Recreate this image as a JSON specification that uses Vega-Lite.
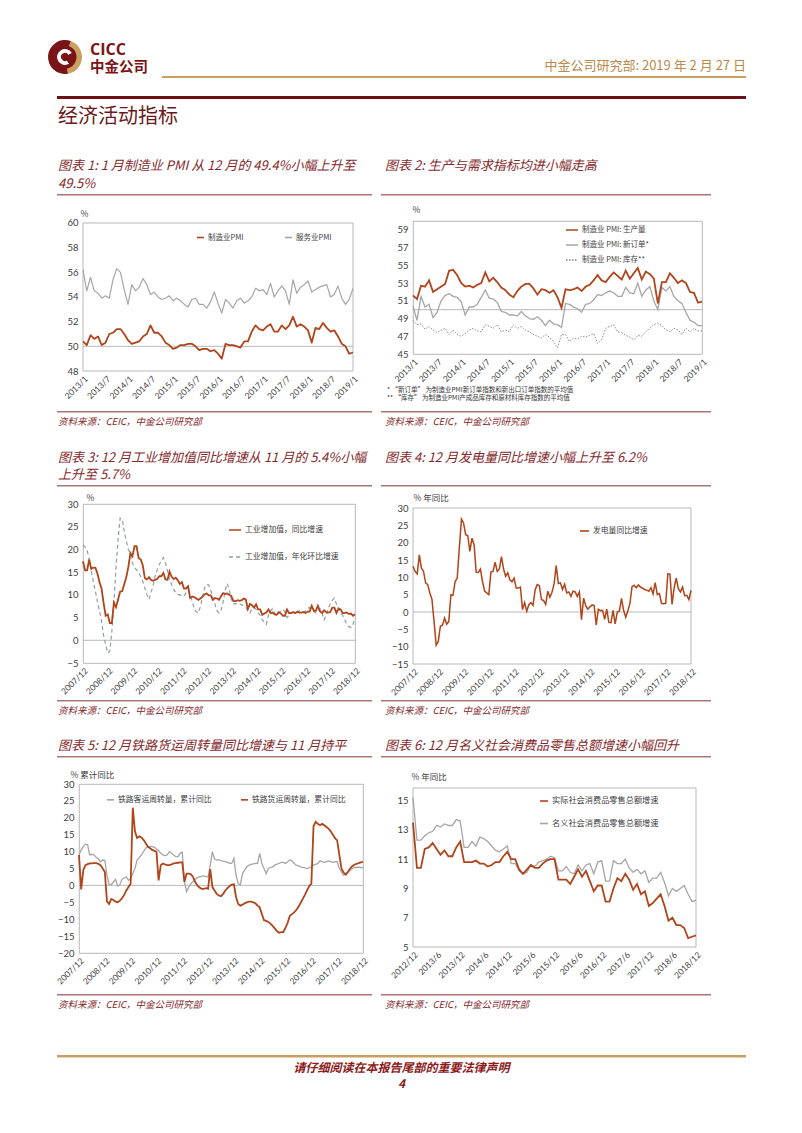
{
"$schema":"https://vega.github.io/schema/vega-lite/v6.json",
"background":"white",
"padding":{"left":48,"top":40,"right":0,"bottom":0},
"spacing":0,
"resolve":{"scale":{"color":"independent","strokeDash":"independent","x":"independent","y":"independent","theta":"independent"},"legend":{"color":"independent","strokeDash":"independent"},"axis":{"x":"independent","y":"independent"}},
"config":{
 "view":{"stroke":null},
 "font":"Noto Sans CJK SC",
 "axis":{"domain":false,"ticks":false,"grid":false,"labelFont":"Lato","labelColor":"#404040","titleFont":"Noto Sans CJK SC","titleFontWeight":"normal","titleColor":"#404040","titleFontSize":8.5},
 "axisX":{"labelAngle":-45,"labelFontSize":8.5,"labelPadding":3,"labelOverlap":false},
 "axisY":{"labelFontSize":9.5,"labelPadding":5,"titleAngle":0,"titleAlign":"left","titleBaseline":"bottom","labelOverlap":false},
 "legend":{"symbolType":"stroke","symbolStrokeWidth":1.6,"labelFont":"Noto Sans CJK SC","labelFontSize":7.8,"labelColor":"#404040","labelOffset":3,"padding":0},
 "title":{"font":"Noto Sans CJK SC","fontSize":13,"fontStyle":"italic","fontWeight":"normal","color":"#84292B","anchor":"start","frame":"group"}
},
"datasets":{
"A":[
{"d":"2013/1","mfg":50.4,"svc":56.2,"prod":51.6,"ord":50.4,"inv":48.8},
{"d":"2013/2","mfg":50.1,"svc":54.5,"prod":51.2,"ord":48.8,"inv":48.3},
{"d":"2013/3","mfg":50.9,"svc":55.6,"prod":52.7,"ord":51.5,"inv":48.4},
{"d":"2013/4","mfg":50.6,"svc":54.5,"prod":52.6,"ord":50.3,"inv":47.8},
{"d":"2013/5","mfg":50.8,"svc":54.3,"prod":53.3,"ord":50.6,"inv":48.1},
{"d":"2013/6","mfg":50.1,"svc":53.9,"prod":52.0,"ord":49.1,"inv":47.7},
{"d":"2013/7","mfg":50.3,"svc":54.1,"prod":52.3,"ord":49.7,"inv":47.4},
{"d":"2013/8","mfg":51.0,"svc":53.9,"prod":52.6,"ord":51.0,"inv":47.7},
{"d":"2013/9","mfg":51.1,"svc":55.4,"prod":52.9,"ord":51.6,"inv":47.9},
{"d":"2013/10","mfg":51.4,"svc":56.3,"prod":54.4,"ord":51.8,"inv":47.2},
{"d":"2013/11","mfg":51.4,"svc":56.0,"prod":54.5,"ord":51.5,"inv":47.7},
{"d":"2013/12","mfg":51.0,"svc":54.6,"prod":53.9,"ord":51.4,"inv":47.2},
{"d":"2014/1","mfg":50.5,"svc":53.4,"prod":53.0,"ord":50.9,"inv":47.0},
{"d":"2014/2","mfg":50.2,"svc":55.0,"prod":52.6,"ord":49.4,"inv":47.3},
{"d":"2014/3","mfg":50.3,"svc":54.5,"prod":52.7,"ord":50.3,"inv":47.7},
{"d":"2014/4","mfg":50.4,"svc":54.8,"prod":52.5,"ord":50.3,"inv":47.9},
{"d":"2014/5","mfg":50.8,"svc":55.5,"prod":52.8,"ord":50.6,"inv":47.6},
{"d":"2014/6","mfg":51.0,"svc":55.0,"prod":53.0,"ord":51.4,"inv":47.5},
{"d":"2014/7","mfg":51.7,"svc":54.2,"prod":54.2,"ord":52.2,"inv":48.3},
{"d":"2014/8","mfg":51.1,"svc":54.4,"prod":53.2,"ord":51.3,"inv":48.1},
{"d":"2014/9","mfg":51.1,"svc":54.0,"prod":53.6,"ord":51.2,"inv":47.9},
{"d":"2014/10","mfg":50.8,"svc":53.8,"prod":53.1,"ord":50.8,"inv":48.3},
{"d":"2014/11","mfg":50.3,"svc":53.9,"prod":52.5,"ord":49.8,"inv":47.5},
{"d":"2014/12","mfg":50.1,"svc":54.1,"prod":52.2,"ord":49.7,"inv":47.7},
{"d":"2015/1","mfg":49.8,"svc":53.7,"prod":51.7,"ord":49.4,"inv":47.5},
{"d":"2015/2","mfg":49.9,"svc":53.9,"prod":51.4,"ord":49.4,"inv":48.3},
{"d":"2015/3","mfg":50.1,"svc":53.7,"prod":52.1,"ord":49.3,"inv":47.9},
{"d":"2015/4","mfg":50.1,"svc":53.4,"prod":52.6,"ord":49.8,"inv":48.1},
{"d":"2015/5","mfg":50.2,"svc":53.2,"prod":52.9,"ord":49.3,"inv":47.7},
{"d":"2015/6","mfg":50.2,"svc":53.8,"prod":52.9,"ord":49.0,"inv":47.5},
{"d":"2015/7","mfg":50.0,"svc":53.9,"prod":52.4,"ord":48.9,"inv":47.2},
{"d":"2015/8","mfg":49.7,"svc":53.4,"prod":51.7,"ord":49.2,"inv":47.0},
{"d":"2015/9","mfg":49.8,"svc":53.4,"prod":52.3,"ord":48.8,"inv":46.8},
{"d":"2015/10","mfg":49.8,"svc":53.1,"prod":52.2,"ord":48.2,"inv":47.2},
{"d":"2015/11","mfg":49.6,"svc":53.6,"prod":51.9,"ord":48.8,"inv":46.9},
{"d":"2015/12","mfg":49.7,"svc":54.4,"prod":52.2,"ord":48.4,"inv":46.4},
{"d":"2016/1","mfg":49.4,"svc":53.5,"prod":51.4,"ord":48.3,"inv":45.7},
{"d":"2016/2","mfg":49.0,"svc":52.7,"prod":50.2,"ord":48.0,"inv":47.2},
{"d":"2016/3","mfg":50.2,"svc":53.8,"prod":52.3,"ord":50.7,"inv":47.2},
{"d":"2016/4","mfg":50.1,"svc":53.5,"prod":52.2,"ord":50.6,"inv":46.4},
{"d":"2016/5","mfg":50.1,"svc":53.1,"prod":52.3,"ord":50.3,"inv":46.8},
{"d":"2016/6","mfg":50.0,"svc":53.7,"prod":52.5,"ord":50.1,"inv":46.7},
{"d":"2016/7","mfg":49.9,"svc":53.9,"prod":52.1,"ord":49.7,"inv":47.0},
{"d":"2016/8","mfg":50.4,"svc":53.5,"prod":52.6,"ord":50.6,"inv":46.9},
{"d":"2016/9","mfg":50.4,"svc":53.7,"prod":52.8,"ord":50.7,"inv":47.1},
{"d":"2016/10","mfg":51.2,"svc":54.0,"prod":53.3,"ord":51.1,"inv":47.3},
{"d":"2016/11","mfg":51.7,"svc":54.7,"prod":53.9,"ord":51.7,"inv":46.2},
{"d":"2016/12","mfg":51.4,"svc":54.5,"prod":53.3,"ord":51.6,"inv":46.6},
{"d":"2017/1","mfg":51.3,"svc":54.6,"prod":53.1,"ord":51.9,"inv":47.9},
{"d":"2017/2","mfg":51.6,"svc":54.2,"prod":53.7,"ord":52.1,"inv":48.1},
{"d":"2017/3","mfg":51.8,"svc":55.1,"prod":54.2,"ord":51.9,"inv":48.3},
{"d":"2017/4","mfg":51.2,"svc":54.0,"prod":53.8,"ord":51.5,"inv":47.5},
{"d":"2017/5","mfg":51.2,"svc":54.5,"prod":53.4,"ord":51.5,"inv":47.4},
{"d":"2017/6","mfg":51.7,"svc":54.9,"prod":54.4,"ord":52.5,"inv":47.1},
{"d":"2017/7","mfg":51.4,"svc":54.5,"prod":53.5,"ord":51.9,"inv":46.9},
{"d":"2017/8","mfg":51.7,"svc":53.4,"prod":54.1,"ord":51.8,"inv":46.6},
{"d":"2017/9","mfg":52.4,"svc":55.4,"prod":54.7,"ord":53.0,"inv":47.1},
{"d":"2017/10","mfg":51.6,"svc":54.3,"prod":53.4,"ord":51.5,"inv":47.0},
{"d":"2017/11","mfg":51.8,"svc":54.8,"prod":54.3,"ord":52.2,"inv":47.5},
{"d":"2017/12","mfg":51.6,"svc":55.0,"prod":54.0,"ord":52.6,"inv":47.9},
{"d":"2018/1","mfg":51.3,"svc":55.3,"prod":53.5,"ord":51.0,"inv":48.3},
{"d":"2018/2","mfg":50.3,"svc":54.4,"prod":50.7,"ord":50.0,"inv":48.5},
{"d":"2018/3","mfg":51.5,"svc":54.6,"prod":53.1,"ord":52.5,"inv":48.2},
{"d":"2018/4","mfg":51.4,"svc":54.8,"prod":53.1,"ord":52.1,"inv":47.7},
{"d":"2018/5","mfg":51.9,"svc":54.9,"prod":54.1,"ord":52.6,"inv":47.5},
{"d":"2018/6","mfg":51.5,"svc":55.0,"prod":53.6,"ord":51.5,"inv":47.9},
{"d":"2018/7","mfg":51.2,"svc":54.0,"prod":53.0,"ord":51.0,"inv":47.7},
{"d":"2018/8","mfg":51.3,"svc":54.2,"prod":53.3,"ord":50.7,"inv":47.2},
{"d":"2018/9","mfg":50.8,"svc":54.9,"prod":53.0,"ord":49.7,"inv":47.9},
{"d":"2018/10","mfg":50.2,"svc":53.9,"prod":52.0,"ord":48.8,"inv":47.5},
{"d":"2018/11","mfg":50.0,"svc":53.4,"prod":51.9,"ord":48.6,"inv":47.9},
{"d":"2018/12","mfg":49.4,"svc":53.8,"prod":50.8,"ord":48.2,"inv":47.6},
{"d":"2019/1","mfg":49.5,"svc":54.7,"prod":50.9,"ord":48.2,"inv":47.6}
],
"B":[
{"d":"2007/12","ip":17.4,"ipm":21.0,"pw":13.2,"pas":9.0,"frt":9.0},
{"d":"2008/1","ip":15.4,"ipm":20.5,"pw":11.7,"pas":10.5,"frt":-1.2},
{"d":"2008/2","ip":15.4,"ipm":19.7,"pw":11.0,"pas":11.5,"frt":4.5},
{"d":"2008/3","ip":17.8,"ipm":18.0,"pw":16.5,"pas":12.2,"frt":6.0},
{"d":"2008/4","ip":15.7,"ipm":15.3,"pw":12.7,"pas":12.0,"frt":6.3},
{"d":"2008/5","ip":16.0,"ipm":13.0,"pw":11.7,"pas":9.0,"frt":6.5},
{"d":"2008/6","ip":16.0,"ipm":10.8,"pw":8.4,"pas":9.2,"frt":6.5},
{"d":"2008/7","ip":14.7,"ipm":8.5,"pw":7.9,"pas":9.0,"frt":6.6},
{"d":"2008/8","ip":12.8,"ipm":6.5,"pw":5.5,"pas":8.3,"frt":6.6},
{"d":"2008/9","ip":11.4,"ipm":4.2,"pw":3.6,"pas":7.8,"frt":6.4},
{"d":"2008/10","ip":8.2,"ipm":1.0,"pw":-2.7,"pas":7.0,"frt":6.0},
{"d":"2008/11","ip":5.4,"ipm":-1.0,"pw":-9.6,"pas":7.5,"frt":5.0},
{"d":"2008/12","ip":5.7,"ipm":-2.8,"pw":-8.5,"pas":7.4,"frt":4.0},
{"d":"2009/1","ip":3.8,"ipm":-2.4,"pw":-4.1,"pas":3.0,"frt":-4.7},
{"d":"2009/2","ip":3.8,"ipm":2.0,"pw":-3.8,"pas":0.3,"frt":-5.5},
{"d":"2009/3","ip":8.3,"ipm":8.0,"pw":-1.7,"pas":0.2,"frt":-4.0},
{"d":"2009/4","ip":7.3,"ipm":16.0,"pw":-3.5,"pas":1.0,"frt":-4.3},
{"d":"2009/5","ip":8.9,"ipm":22.0,"pw":-2.7,"pas":1.8,"frt":-4.8},
{"d":"2009/6","ip":10.7,"ipm":26.9,"pw":5.0,"pas":-0.2,"frt":-5.0},
{"d":"2009/7","ip":10.8,"ipm":26.7,"pw":4.8,"pas":0.2,"frt":-4.5},
{"d":"2009/8","ip":12.3,"ipm":24.0,"pw":8.8,"pas":1.8,"frt":-3.8},
{"d":"2009/9","ip":13.9,"ipm":21.9,"pw":9.8,"pas":2.2,"frt":-2.8},
{"d":"2009/10","ip":16.1,"ipm":20.0,"pw":18.5,"pas":2.5,"frt":-1.5},
{"d":"2009/11","ip":19.2,"ipm":19.0,"pw":26.8,"pas":1.5,"frt":-0.5},
{"d":"2009/12","ip":18.5,"ipm":17.0,"pw":25.7,"pas":2.0,"frt":0.5},
{"d":"2010/1","ip":20.7,"ipm":16.0,"pw":22.3,"pas":3.5,"frt":23.0},
{"d":"2010/2","ip":20.7,"ipm":15.5,"pw":22.0,"pas":5.0,"frt":16.0},
{"d":"2010/3","ip":18.1,"ipm":14.9,"pw":17.5,"pas":7.5,"frt":14.0},
{"d":"2010/4","ip":17.8,"ipm":14.0,"pw":21.3,"pas":8.2,"frt":14.5},
{"d":"2010/5","ip":16.5,"ipm":13.0,"pw":19.4,"pas":9.0,"frt":14.2},
{"d":"2010/6","ip":13.7,"ipm":11.5,"pw":11.5,"pas":10.0,"frt":13.5},
{"d":"2010/7","ip":13.4,"ipm":10.1,"pw":11.4,"pas":11.0,"frt":12.5},
{"d":"2010/8","ip":13.9,"ipm":9.0,"pw":12.4,"pas":11.3,"frt":11.5},
{"d":"2010/9","ip":13.3,"ipm":10.5,"pw":8.8,"pas":11.5,"frt":11.0},
{"d":"2010/10","ip":13.1,"ipm":12.0,"pw":6.0,"pas":11.5,"frt":10.5},
{"d":"2010/11","ip":13.3,"ipm":14.1,"pw":5.5,"pas":11.3,"frt":10.2},
{"d":"2010/12","ip":13.5,"ipm":15.5,"pw":5.0,"pas":10.8,"frt":10.0},
{"d":"2011/1","ip":14.1,"ipm":16.7,"pw":11.5,"pas":10.3,"frt":1.5},
{"d":"2011/2","ip":14.1,"ipm":17.5,"pw":11.7,"pas":9.5,"frt":6.0},
{"d":"2011/3","ip":14.8,"ipm":18.2,"pw":14.4,"pas":9.0,"frt":6.5},
{"d":"2011/4","ip":13.4,"ipm":17.0,"pw":11.7,"pas":8.8,"frt":6.2},
{"d":"2011/5","ip":13.3,"ipm":15.3,"pw":12.4,"pas":9.0,"frt":6.0},
{"d":"2011/6","ip":15.1,"ipm":13.5,"pw":16.0,"pas":10.0,"frt":6.0},
{"d":"2011/7","ip":14.0,"ipm":12.3,"pw":12.4,"pas":9.5,"frt":6.2},
{"d":"2011/8","ip":13.5,"ipm":11.2,"pw":10.3,"pas":9.0,"frt":6.5},
{"d":"2011/9","ip":13.8,"ipm":10.5,"pw":11.3,"pas":8.5,"frt":6.6},
{"d":"2011/10","ip":13.2,"ipm":10.1,"pw":9.3,"pas":8.5,"frt":6.7},
{"d":"2011/11","ip":12.4,"ipm":10.0,"pw":8.7,"pas":9.5,"frt":6.8},
{"d":"2011/12","ip":12.8,"ipm":9.8,"pw":9.8,"pas":9.8,"frt":6.8},
{"d":"2012/1","ip":11.4,"ipm":9.7,"pw":6.9,"pas":1.0,"frt":1.0},
{"d":"2012/2","ip":11.4,"ipm":10.5,"pw":6.9,"pas":-1.8,"frt":3.5},
{"d":"2012/3","ip":11.9,"ipm":11.0,"pw":7.2,"pas":-0.5,"frt":3.5},
{"d":"2012/4","ip":9.3,"ipm":10.0,"pw":0.7,"pas":0.5,"frt":3.3},
{"d":"2012/5","ip":9.6,"ipm":8.5,"pw":2.7,"pas":1.2,"frt":2.5},
{"d":"2012/6","ip":9.5,"ipm":7.0,"pw":0.2,"pas":1.8,"frt":1.0},
{"d":"2012/7","ip":9.2,"ipm":6.2,"pw":2.1,"pas":2.3,"frt":0.0},
{"d":"2012/8","ip":8.9,"ipm":6.0,"pw":2.7,"pas":2.5,"frt":-0.6},
{"d":"2012/9","ip":9.2,"ipm":7.5,"pw":1.9,"pas":2.7,"frt":-1.0},
{"d":"2012/10","ip":9.6,"ipm":9.5,"pw":6.4,"pas":2.8,"frt":-1.0},
{"d":"2012/11","ip":10.1,"ipm":11.5,"pw":7.9,"pas":2.6,"frt":-0.8},
{"d":"2012/12","ip":10.3,"ipm":12.3,"pw":7.6,"pas":2.5,"frt":-1.0},
{"d":"2013/1","ip":9.9,"ipm":12.2,"pw":3.6,"pas":6.0,"frt":4.8},
{"d":"2013/2","ip":9.9,"ipm":11.0,"pw":3.3,"pas":10.0,"frt":-0.5},
{"d":"2013/3","ip":8.9,"ipm":9.5,"pw":2.2,"pas":7.8,"frt":-1.5},
{"d":"2013/4","ip":9.3,"ipm":8.0,"pw":6.0,"pas":7.5,"frt":-2.5},
{"d":"2013/5","ip":9.2,"ipm":6.5,"pw":4.3,"pas":7.6,"frt":-3.0},
{"d":"2013/6","ip":8.9,"ipm":6.0,"pw":5.7,"pas":7.3,"frt":-3.2},
{"d":"2013/7","ip":9.7,"ipm":6.5,"pw":8.1,"pas":7.2,"frt":-2.5},
{"d":"2013/8","ip":10.4,"ipm":8.5,"pw":13.4,"pas":7.0,"frt":-1.5},
{"d":"2013/9","ip":10.2,"ipm":11.0,"pw":8.2,"pas":6.8,"frt":-0.8},
{"d":"2013/10","ip":10.3,"ipm":12.5,"pw":8.4,"pas":6.5,"frt":-0.2},
{"d":"2013/11","ip":10.0,"ipm":11.0,"pw":6.5,"pas":6.5,"frt":0.2},
{"d":"2013/12","ip":9.7,"ipm":9.0,"pw":8.0,"pas":8.0,"frt":0.3},
{"d":"2014/1","ip":8.6,"ipm":8.0,"pw":5.5,"pas":3.0,"frt":-3.5},
{"d":"2014/2","ip":8.6,"ipm":8.0,"pw":5.8,"pas":0.5,"frt":-5.5},
{"d":"2014/3","ip":8.8,"ipm":8.2,"pw":4.5,"pas":0.2,"frt":-6.0},
{"d":"2014/4","ip":8.7,"ipm":8.0,"pw":6.0,"pas":3.5,"frt":-5.7},
{"d":"2014/5","ip":8.8,"ipm":7.8,"pw":5.8,"pas":4.5,"frt":-5.3},
{"d":"2014/6","ip":9.2,"ipm":7.5,"pw":4.5,"pas":5.5,"frt":-5.0},
{"d":"2014/7","ip":9.0,"ipm":7.3,"pw":5.8,"pas":6.0,"frt":-4.8},
{"d":"2014/8","ip":6.9,"ipm":6.5,"pw":-2.2,"pas":6.2,"frt":-4.8},
{"d":"2014/9","ip":8.0,"ipm":6.0,"pw":4.0,"pas":6.4,"frt":-5.0},
{"d":"2014/10","ip":7.7,"ipm":7.0,"pw":1.8,"pas":6.5,"frt":-5.3},
{"d":"2014/11","ip":7.2,"ipm":7.2,"pw":0.8,"pas":6.5,"frt":-6.0},
{"d":"2014/12","ip":7.9,"ipm":6.8,"pw":1.5,"pas":9.5,"frt":-6.5},
{"d":"2015/1","ip":6.8,"ipm":6.0,"pw":2.0,"pas":6.5,"frt":-8.5},
{"d":"2015/2","ip":6.8,"ipm":5.5,"pw":1.9,"pas":5.0,"frt":-10.3},
{"d":"2015/3","ip":5.6,"ipm":4.5,"pw":-3.7,"pas":3.5,"frt":-10.5},
{"d":"2015/4","ip":5.9,"ipm":4.0,"pw":0.8,"pas":5.0,"frt":-10.8},
{"d":"2015/5","ip":6.1,"ipm":3.5,"pw":0.4,"pas":5.3,"frt":-11.3},
{"d":"2015/6","ip":6.8,"ipm":5.5,"pw":0.5,"pas":5.5,"frt":-12.0},
{"d":"2015/7","ip":6.0,"ipm":6.5,"pw":-2.1,"pas":6.0,"frt":-12.7},
{"d":"2015/8","ip":6.1,"ipm":7.0,"pw":0.8,"pas":6.3,"frt":-13.5},
{"d":"2015/9","ip":5.7,"ipm":6.0,"pw":-3.0,"pas":6.5,"frt":-14.0},
{"d":"2015/10","ip":5.6,"ipm":5.5,"pw":-3.1,"pas":6.8,"frt":-13.8},
{"d":"2015/11","ip":6.2,"ipm":6.0,"pw":0.5,"pas":6.8,"frt":-13.8},
{"d":"2015/12","ip":5.9,"ipm":6.5,"pw":-3.4,"pas":6.5,"frt":-12.5},
{"d":"2016/1","ip":5.4,"ipm":6.8,"pw":0.0,"pas":7.0,"frt":-11.0},
{"d":"2016/2","ip":5.4,"ipm":6.2,"pw":0.3,"pas":7.5,"frt":-9.0},
{"d":"2016/3","ip":6.8,"ipm":5.0,"pw":3.9,"pas":7.3,"frt":-8.5},
{"d":"2016/4","ip":6.0,"ipm":5.5,"pw":0.5,"pas":6.5,"frt":-8.0},
{"d":"2016/5","ip":6.0,"ipm":6.0,"pw":-1.5,"pas":6.0,"frt":-7.3},
{"d":"2016/6","ip":6.2,"ipm":6.2,"pw":0.3,"pas":5.8,"frt":-6.3},
{"d":"2016/7","ip":6.0,"ipm":6.0,"pw":2.5,"pas":5.5,"frt":-5.2},
{"d":"2016/8","ip":6.3,"ipm":6.1,"pw":7.3,"pas":5.3,"frt":-4.0},
{"d":"2016/9","ip":6.1,"ipm":6.5,"pw":7.7,"pas":5.2,"frt":-2.8},
{"d":"2016/10","ip":6.1,"ipm":6.3,"pw":7.0,"pas":5.0,"frt":-1.5},
{"d":"2016/11","ip":6.2,"ipm":6.1,"pw":7.8,"pas":5.2,"frt":-0.2},
{"d":"2016/12","ip":6.0,"ipm":6.5,"pw":7.2,"pas":5.5,"frt":0.5},
{"d":"2017/1","ip":6.3,"ipm":7.0,"pw":6.9,"pas":6.0,"frt":17.5},
{"d":"2017/2","ip":6.3,"ipm":7.2,"pw":6.5,"pas":6.2,"frt":18.8},
{"d":"2017/3","ip":7.6,"ipm":6.5,"pw":6.3,"pas":6.5,"frt":18.2},
{"d":"2017/4","ip":6.5,"ipm":6.3,"pw":6.0,"pas":7.3,"frt":17.8},
{"d":"2017/5","ip":6.5,"ipm":6.0,"pw":7.0,"pas":7.0,"frt":18.2},
{"d":"2017/6","ip":7.6,"ipm":6.5,"pw":5.2,"pas":6.8,"frt":17.8},
{"d":"2017/7","ip":6.4,"ipm":7.0,"pw":8.5,"pas":7.0,"frt":17.3},
{"d":"2017/8","ip":6.0,"ipm":6.0,"pw":5.0,"pas":7.2,"frt":16.8},
{"d":"2017/9","ip":6.6,"ipm":4.5,"pw":5.3,"pas":7.0,"frt":16.0},
{"d":"2017/10","ip":6.2,"ipm":5.5,"pw":2.5,"pas":6.8,"frt":15.0},
{"d":"2017/11","ip":6.1,"ipm":7.0,"pw":2.4,"pas":7.0,"frt":14.0},
{"d":"2017/12","ip":6.2,"ipm":8.0,"pw":2.5,"pas":7.0,"frt":13.3},
{"d":"2018/1","ip":7.2,"ipm":8.8,"pw":11.0,"pas":5.0,"frt":9.0},
{"d":"2018/2","ip":7.2,"ipm":9.3,"pw":10.9,"pas":4.0,"frt":5.0},
{"d":"2018/3","ip":6.0,"ipm":8.0,"pw":2.2,"pas":3.0,"frt":3.8},
{"d":"2018/4","ip":7.0,"ipm":7.0,"pw":7.0,"pas":3.5,"frt":3.2},
{"d":"2018/5","ip":6.8,"ipm":6.0,"pw":9.8,"pas":4.0,"frt":4.0},
{"d":"2018/6","ip":6.0,"ipm":5.5,"pw":6.7,"pas":4.5,"frt":5.0},
{"d":"2018/7","ip":6.0,"ipm":4.5,"pw":5.8,"pas":5.0,"frt":5.7},
{"d":"2018/8","ip":6.1,"ipm":3.5,"pw":7.2,"pas":5.3,"frt":6.1},
{"d":"2018/9","ip":5.8,"ipm":3.0,"pw":4.7,"pas":5.3,"frt":6.4},
{"d":"2018/10","ip":5.9,"ipm":2.8,"pw":4.8,"pas":5.4,"frt":6.6},
{"d":"2018/11","ip":5.4,"ipm":3.5,"pw":3.6,"pas":5.3,"frt":6.8},
{"d":"2018/12","ip":5.7,"ipm":5.0,"pw":6.2,"pas":5.2,"frt":7.0}
],
"C":[
{"d":"2012/12","real":13.5,"nom":15.2},
{"d":"2013/1","real":10.4,"nom":12.3},
{"d":"2013/2","real":10.4,"nom":12.3},
{"d":"2013/3","real":11.7,"nom":12.6},
{"d":"2013/4","real":11.8,"nom":12.8},
{"d":"2013/5","real":12.1,"nom":12.9},
{"d":"2013/6","real":11.7,"nom":13.3},
{"d":"2013/7","real":11.3,"nom":13.2},
{"d":"2013/8","real":11.6,"nom":13.4},
{"d":"2013/9","real":11.2,"nom":13.3},
{"d":"2013/10","real":11.2,"nom":13.3},
{"d":"2013/11","real":11.8,"nom":13.7},
{"d":"2013/12","real":12.2,"nom":13.6},
{"d":"2014/1","real":10.8,"nom":11.8},
{"d":"2014/2","real":10.8,"nom":11.8},
{"d":"2014/3","real":10.8,"nom":12.2},
{"d":"2014/4","real":10.9,"nom":11.9},
{"d":"2014/5","real":10.7,"nom":12.5},
{"d":"2014/6","real":10.7,"nom":12.4},
{"d":"2014/7","real":10.5,"nom":12.2},
{"d":"2014/8","real":10.6,"nom":11.9},
{"d":"2014/9","real":10.8,"nom":11.6},
{"d":"2014/10","real":10.8,"nom":11.5},
{"d":"2014/11","real":11.2,"nom":11.7},
{"d":"2014/12","real":11.5,"nom":11.9},
{"d":"2015/1","real":11.0,"nom":10.7},
{"d":"2015/2","real":11.0,"nom":10.7},
{"d":"2015/3","real":10.3,"nom":10.2},
{"d":"2015/4","real":10.0,"nom":10.0},
{"d":"2015/5","real":10.3,"nom":10.1},
{"d":"2015/6","real":10.6,"nom":10.6},
{"d":"2015/7","real":10.4,"nom":10.5},
{"d":"2015/8","real":10.4,"nom":10.8},
{"d":"2015/9","real":10.7,"nom":10.9},
{"d":"2015/10","real":10.9,"nom":11.0},
{"d":"2015/11","real":11.0,"nom":11.2},
{"d":"2015/12","real":11.0,"nom":11.1},
{"d":"2016/1","real":9.6,"nom":10.2},
{"d":"2016/2","real":9.6,"nom":10.2},
{"d":"2016/3","real":9.6,"nom":10.5},
{"d":"2016/4","real":9.3,"nom":10.1},
{"d":"2016/5","real":9.8,"nom":10.0},
{"d":"2016/6","real":10.3,"nom":10.6},
{"d":"2016/7","real":9.8,"nom":10.2},
{"d":"2016/8","real":10.2,"nom":10.6},
{"d":"2016/9","real":9.5,"nom":10.7},
{"d":"2016/10","real":8.8,"nom":10.0},
{"d":"2016/11","real":9.2,"nom":10.8},
{"d":"2016/12","real":9.2,"nom":10.9},
{"d":"2017/1","real":8.1,"nom":9.5},
{"d":"2017/2","real":8.1,"nom":9.5},
{"d":"2017/3","real":9.0,"nom":10.9},
{"d":"2017/4","real":9.7,"nom":10.7},
{"d":"2017/5","real":9.5,"nom":10.7},
{"d":"2017/6","real":10.0,"nom":11.0},
{"d":"2017/7","real":9.6,"nom":10.4},
{"d":"2017/8","real":8.9,"nom":10.1},
{"d":"2017/9","real":9.3,"nom":10.3},
{"d":"2017/10","real":8.6,"nom":10.0},
{"d":"2017/11","real":8.8,"nom":10.2},
{"d":"2017/12","real":7.8,"nom":9.4},
{"d":"2018/1","real":8.0,"nom":9.7},
{"d":"2018/2","real":8.3,"nom":9.7},
{"d":"2018/3","real":8.6,"nom":10.1},
{"d":"2018/4","real":7.8,"nom":9.4},
{"d":"2018/5","real":6.8,"nom":8.5},
{"d":"2018/6","real":7.0,"nom":9.0},
{"d":"2018/7","real":6.5,"nom":8.8},
{"d":"2018/8","real":6.5,"nom":9.0},
{"d":"2018/9","real":6.3,"nom":9.2},
{"d":"2018/10","real":5.6,"nom":8.6},
{"d":"2018/11","real":5.7,"nom":8.1},
{"d":"2018/12","real":5.8,"nom":8.2}
]
},
"vconcat":[
 {"hconcat":[
  {"width":34,"height":34,
   "layer":[
    {"data":{"values":[{"p":"a","v":150},{"p":"b","v":210}]},"mark":{"type":"arc","outerRadius":17},"encoding":{"theta":{"field":"v","type":"quantitative","stack":true,"scale":{"range":[0.35,6.633]}},"color":{"field":"p","type":"nominal","scale":{"domain":["a","b"],"range":["#C9A063","#7B1416"]},"legend":null}}},
    {"data":{"values":[{"p":"c","v":1}]},"mark":{"type":"arc","outerRadius":11.5,"color":"#7B1416"},"encoding":{"theta":{"field":"v","type":"quantitative"}}},
    {"data":{"values":[{"p":"w","v":270},{"p":"x","v":90}]},"mark":{"type":"arc","innerRadius":4,"outerRadius":8},"encoding":{"theta":{"field":"v","type":"quantitative","stack":true,"scale":{"range":[2.6,8.883]}},"color":{"field":"p","type":"nominal","scale":{"domain":["w","x"],"range":["#FFFFFF","#7B1416"]},"legend":null}}}
   ],
   "resolve":{"scale":{"theta":"independent","color":"independent"}}},
  {"width":80,"height":1,"mark":"rect","data":{"values":[]},
   "title":{"text":"CICC","subtitle":"中金公司","orient":"bottom","font":"Open Sans","fontSize":16,"fontWeight":"bold","fontStyle":"normal","color":"#7B1416","subtitleFont":"Noto Sans CJK SC","subtitleFontSize":14.5,"subtitleFontWeight":"bold","subtitleColor":"#7B1416","subtitlePadding":3,"dx":8,"offset":1}},
  {"width":584,"height":1,"mark":"rect","data":{"values":[]},
   "title":{"text":"中金公司研究部: 2019 年 2 月 27 日","orient":"bottom","anchor":"end","fontSize":13,"fontStyle":"normal","color":"#B98A4A","offset":19}},
  {"width":1,"height":36,"mark":"rect","data":{"values":[]}}
 ],"spacing":0,"bounds":"flush","resolve":{"scale":{"color":"independent","theta":"independent"}}},
 {"hconcat":[
  {"width":114,"height":2,"mark":"rect","data":{"values":[]}},
  {"width":584,"height":2,"view":{"fill":"#C9A063","stroke":null},"mark":"rect","data":{"values":[]}}
 ],"spacing":0,"bounds":"flush"},
 {"width":1,"height":18,"mark":"rect","data":{"values":[]}},
 {"hconcat":[
  {"width":9,"height":3,"mark":"rect","data":{"values":[]}},
  {"width":689,"height":3,"view":{"fill":"#6E1116","stroke":null},"mark":"rect","data":{"values":[]},
   "title":{"text":"经济活动指标","orient":"bottom","fontSize":20,"fontStyle":"normal","color":"#6A1A1A","dx":1,"offset":8}}
 ],"spacing":0,"bounds":"flush"},
 {"width":1,"height":32.3,"mark":"rect","data":{"values":[]}},
 {"hconcat":[
  {"width":9,"height":1.5,"mark":"rect","data":{"values":[]}},
  {"width":315,"height":1.5,"view":{"fill":"#A87777","stroke":null},"mark":"rect","data":{"values":[]},
   "title":{"text":["图表 1: 1 月制造业 PMI 从 12 月的 49.4%小幅上升至","49.5%"],"lineHeight":17.5,"dx":1,"offset":3.5}},
  {"width":9,"height":1.5,"mark":"rect","data":{"values":[]}},
  {"width":330,"height":1.5,"view":{"fill":"#A87777","stroke":null},"mark":"rect","data":{"values":[]},
   "title":{"text":"图表 2: 生产与需求指标均进小幅走高","dx":4,"offset":21}}
 ],"spacing":0,"bounds":"flush"},
 {"width":1,"height":7.7,"mark":"rect","data":{"values":[]}},
 {"hconcat":[
  {"width":35,"height":1,"mark":"rect","data":{"values":[]}},
  {"width":270,"height":150,
   "data":{"name":"A"},
   "layer":[
    {"data":{"values":[{"a":48,"b":60}]},"mark":{"type":"rect","filled":false,"color":"#A6A6A6","strokeWidth":0.8},
     "encoding":{"y":{"field":"a","type":"quantitative","scale":{"domain":[48,60.162],"nice":false,"zero":false},"axis":{"values":[48,50,52,54,56,58,60],"title":"%","titleX":-3,"titleY":-3}},"y2":{"field":"b"}}},
    {"data":{"values":[{"v":50}]},"mark":{"type":"rule","color":"#A6A6A6","strokeWidth":0.8},
     "encoding":{"y":{"field":"v","type":"quantitative","scale":{"domain":[48,60.162],"nice":false,"zero":false},"axis":{"values":[48,50,52,54,56,58,60],"title":"%","titleX":-3,"titleY":-3}}}},
    {"transform":[{"fold":["svc"],"as":["k","v"]}],"mark":{"type":"line","strokeWidth":1.2,"strokeJoin":"round"},
     "encoding":{
      "x":{"field":"d","type":"ordinal","sort":null,"scale":{"type":"point","padding":0},"axis":{"values":["2013/1","2013/7","2014/1","2014/7","2015/1","2015/7","2016/1","2016/7","2017/1","2017/7","2018/1","2018/7","2019/1"],"title":null}},
      "y":{"field":"v","type":"quantitative","scale":{"domain":[48,60.162],"nice":false,"zero":false},"axis":{"values":[48,50,52,54,56,58,60],"title":"%","titleX":-3,"titleY":-3}},
      "color":{"field":"k","type":"nominal","scale":{"domain":["mfg","svc"],"range":["#B0441A","#A6A6A6"]},"legend":{"title":null,"orient":"none","direction":"horizontal","legendX":113,"legendY":12,"symbolSize":49,"columnPadding":37,"labelFontSize":7.5,"labelExpr":"datum.label=='mfg'?'制造业PMI':'服务业PMI'"}}}},
    {"transform":[{"fold":["mfg"],"as":["k","v"]}],"mark":{"type":"line","strokeWidth":1.8,"strokeJoin":"round"},
     "encoding":{
      "x":{"field":"d","type":"ordinal","sort":null,"scale":{"type":"point","padding":0},"axis":{"values":["2013/1","2013/7","2014/1","2014/7","2015/1","2015/7","2016/1","2016/7","2017/1","2017/7","2018/1","2018/7","2019/1"],"title":null}},
      "y":{"field":"v","type":"quantitative","scale":{"domain":[48,60.162],"nice":false,"zero":false},"axis":{"values":[48,50,52,54,56,58,60],"title":"%","titleX":-3,"titleY":-3}},
      "color":{"field":"k","type":"nominal","scale":{"domain":["mfg","svc"],"range":["#B0441A","#A6A6A6"]},"legend":{"title":null,"orient":"none","direction":"horizontal","legendX":113,"legendY":12,"symbolSize":49,"columnPadding":37,"labelFontSize":7.5,"labelExpr":"datum.label=='mfg'?'制造业PMI':'服务业PMI'"}}}}
   ]},
  {"width":60,"height":1,"mark":"rect","data":{"values":[]}},
  {"width":289,"height":133,"view":{"stroke":"#A6A6A6","strokeWidth":0.8},
   "data":{"name":"A"},
   "title":{"text":["*    “新订单” 为制造业PMI新订单指数和新出口订单指数的平均值","**   “库存” 为制造业PMI产成品库存和原材料库存指数的平均值"],"orient":"bottom","fontSize":6.5,"fontStyle":"normal","color":"#333333","dx":-26,"offset":4,"lineHeight":8},
   "layer":[
    {"data":{"values":[{"v":50}]},"mark":{"type":"rule","color":"#A6A6A6","strokeWidth":0.8},
     "encoding":{"y":{"field":"v","type":"quantitative","scale":{"domain":[45,60],"nice":false,"zero":false},"axis":{"values":[45,47,49,51,53,55,57,59],"title":"%","titleX":-1,"titleY":-7}}}},
    {"transform":[{"fold":["inv"],"as":["k","v"]}],"mark":{"type":"line","strokeWidth":0.9},
     "encoding":{
      "x":{"field":"d","type":"ordinal","sort":null,"scale":{"type":"point","padding":0},"axis":{"values":["2013/1","2013/7","2014/1","2014/7","2015/1","2015/7","2016/1","2016/7","2017/1","2017/7","2018/1","2018/7","2019/1"],"title":null}},
      "y":{"field":"v","type":"quantitative","scale":{"domain":[45,60],"nice":false,"zero":false},"axis":{"values":[45,47,49,51,53,55,57,59],"title":"%","titleX":-1,"titleY":-7}},
      "color":{"field":"k","type":"nominal","scale":{"domain":["prod","ord","inv"],"range":["#B0441A","#A6A6A6","#808080"]},"legend":{"title":null,"orient":"none","direction":"vertical","legendX":152,"legendY":2,"symbolSize":144,"rowPadding":4,"labelFontSize":7.5,"labelExpr":"datum.label=='prod'?'制造业 PMI: 生产量':datum.label=='ord'?'制造业 PMI: 新订单*':'制造业 PMI: 库存**'"}},
      "strokeDash":{"field":"k","type":"nominal","scale":{"domain":["prod","ord","inv"],"range":[[1,0],[1,0],[1.5,1.5]]},"legend":{"title":null,"orient":"none","direction":"vertical","legendX":152,"legendY":2,"symbolSize":144,"rowPadding":4,"labelFontSize":7.5,"labelExpr":"datum.label=='prod'?'制造业 PMI: 生产量':datum.label=='ord'?'制造业 PMI: 新订单*':'制造业 PMI: 库存**'"}}}},
    {"transform":[{"fold":["ord"],"as":["k","v"]}],"mark":{"type":"line","strokeWidth":1.3},
     "encoding":{
      "x":{"field":"d","type":"ordinal","sort":null,"scale":{"type":"point","padding":0},"axis":{"values":["2013/1","2013/7","2014/1","2014/7","2015/1","2015/7","2016/1","2016/7","2017/1","2017/7","2018/1","2018/7","2019/1"],"title":null}},
      "y":{"field":"v","type":"quantitative","scale":{"domain":[45,60],"nice":false,"zero":false},"axis":{"values":[45,47,49,51,53,55,57,59],"title":"%","titleX":-1,"titleY":-7}},
      "color":{"field":"k","type":"nominal","scale":{"domain":["prod","ord","inv"],"range":["#B0441A","#A6A6A6","#808080"]},"legend":{"title":null,"orient":"none","direction":"vertical","legendX":152,"legendY":2,"symbolSize":144,"rowPadding":4,"labelFontSize":7.5,"labelExpr":"datum.label=='prod'?'制造业 PMI: 生产量':datum.label=='ord'?'制造业 PMI: 新订单*':'制造业 PMI: 库存**'"}},
      "strokeDash":{"field":"k","type":"nominal","scale":{"domain":["prod","ord","inv"],"range":[[1,0],[1,0],[1.5,1.5]]},"legend":{"title":null,"orient":"none","direction":"vertical","legendX":152,"legendY":2,"symbolSize":144,"rowPadding":4,"labelFontSize":7.5,"labelExpr":"datum.label=='prod'?'制造业 PMI: 生产量':datum.label=='ord'?'制造业 PMI: 新订单*':'制造业 PMI: 库存**'"}}}},
    {"transform":[{"fold":["prod"],"as":["k","v"]}],"mark":{"type":"line","strokeWidth":1.8},
     "encoding":{
      "x":{"field":"d","type":"ordinal","sort":null,"scale":{"type":"point","padding":0},"axis":{"values":["2013/1","2013/7","2014/1","2014/7","2015/1","2015/7","2016/1","2016/7","2017/1","2017/7","2018/1","2018/7","2019/1"],"title":null}},
      "y":{"field":"v","type":"quantitative","scale":{"domain":[45,60],"nice":false,"zero":false},"axis":{"values":[45,47,49,51,53,55,57,59],"title":"%","titleX":-1,"titleY":-7}},
      "color":{"field":"k","type":"nominal","scale":{"domain":["prod","ord","inv"],"range":["#B0441A","#A6A6A6","#808080"]},"legend":{"title":null,"orient":"none","direction":"vertical","legendX":152,"legendY":2,"symbolSize":144,"rowPadding":4,"labelFontSize":7.5,"labelExpr":"datum.label=='prod'?'制造业 PMI: 生产量':datum.label=='ord'?'制造业 PMI: 新订单*':'制造业 PMI: 库存**'"}},
      "strokeDash":{"field":"k","type":"nominal","scale":{"domain":["prod","ord","inv"],"range":[[1,0],[1,0],[1.5,1.5]]},"legend":{"title":null,"orient":"none","direction":"vertical","legendX":152,"legendY":2,"symbolSize":144,"rowPadding":4,"labelFontSize":7.5,"labelExpr":"datum.label=='prod'?'制造业 PMI: 生产量':datum.label=='ord'?'制造业 PMI: 新订单*':'制造业 PMI: 库存**'"}}}}
   ]}
 ],"spacing":0,"bounds":"flush","resolve":{"scale":{"color":"independent","strokeDash":"independent"},"legend":{"color":"independent","strokeDash":"independent"}}},
 {"width":1,"height":7.5,"mark":"rect","data":{"values":[]}},
 {"hconcat":[
  {"width":9,"height":1.5,"mark":"rect","data":{"values":[]}},
  {"width":315,"height":1.5,"view":{"fill":"#A87777","stroke":null},"mark":"rect","data":{"values":[]},
   "title":{"text":"资料来源：CEIC，中金公司研究部","orient":"bottom","fontSize":9.5,"dx":1,"offset":4}},
  {"width":9,"height":1.5,"mark":"rect","data":{"values":[]}},
  {"width":330,"height":1.5,"view":{"fill":"#A87777","stroke":null},"mark":"rect","data":{"values":[]},
   "title":{"text":"资料来源：CEIC，中金公司研究部","orient":"bottom","fontSize":9.5,"dx":4,"offset":4}}
 ],"spacing":0,"bounds":"flush"},
 {"width":1,"height":24.8,"mark":"rect","data":{"values":[]}},
 {"hconcat":[
  {"width":9,"height":1.5,"mark":"rect","data":{"values":[]}},
  {"width":315,"height":1.5,"view":{"fill":"#A87777","stroke":null},"mark":"rect","data":{"values":[]},
   "title":{"text":["图表 3: 12 月工业增加值同比增速从 11 月的 5.4%小幅","上升至 5.7%"],"lineHeight":17,"dx":1,"offset":3.5}},
  {"width":9,"height":1.5,"mark":"rect","data":{"values":[]}},
  {"width":330,"height":1.5,"view":{"fill":"#A87777","stroke":null},"mark":"rect","data":{"values":[]},
   "title":{"text":"图表 4: 12 月发电量同比增速小幅上升至 6.2%","dx":4,"offset":20.5}}
 ],"spacing":0,"bounds":"flush"},
 {"width":1,"height":4.3,"mark":"rect","data":{"values":[]}},
 {"hconcat":[
  {"width":35,"height":1,"mark":"rect","data":{"values":[]}},
  {"width":272,"height":159,"view":{"stroke":"#A6A6A6","strokeWidth":0.8},
   "data":{"name":"B"},
   "layer":[
    {"data":{"values":[{"v":0}]},"mark":{"type":"rule","color":"#A6A6A6","strokeWidth":0.8},
     "encoding":{"y":{"field":"v","type":"quantitative","scale":{"domain":[-5,30],"nice":false,"zero":false},"axis":{"values":[-5,0,5,10,15,20,25,30],"title":"%","titleX":3,"titleY":-2}}}},
    {"transform":[{"fold":["ipm"],"as":["k","v"]}],"mark":{"type":"line","strokeWidth":1.2},
     "encoding":{
      "x":{"field":"d","type":"ordinal","sort":null,"scale":{"type":"point","padding":0},"axis":{"values":["2007/12","2008/12","2009/12","2010/12","2011/12","2012/12","2013/12","2014/12","2015/12","2016/12","2017/12","2018/12"],"title":null}},
      "y":{"field":"v","type":"quantitative","scale":{"domain":[-5,30],"nice":false,"zero":false},"axis":{"values":[-5,0,5,10,15,20,25,30],"title":"%","titleX":3,"titleY":-2}},
      "color":{"field":"k","type":"nominal","scale":{"domain":["ip","ipm"],"range":["#B0441A","#8DA0AC"]},"legend":{"title":null,"orient":"none","direction":"vertical","legendX":145,"legendY":19,"symbolSize":144,"rowPadding":16,"labelExpr":"datum.label=='ip'?'工业增加值，同比增速':'工业增加值，年化环比增速'"}},
      "strokeDash":{"field":"k","type":"nominal","scale":{"domain":["ip","ipm"],"range":[[1,0],[4,3]]},"legend":{"title":null,"orient":"none","direction":"vertical","legendX":145,"legendY":19,"symbolSize":144,"rowPadding":16,"labelExpr":"datum.label=='ip'?'工业增加值，同比增速':'工业增加值，年化环比增速'"}}}},
    {"transform":[{"fold":["ip"],"as":["k","v"]}],"mark":{"type":"line","strokeWidth":1.8},
     "encoding":{
      "x":{"field":"d","type":"ordinal","sort":null,"scale":{"type":"point","padding":0},"axis":{"values":["2007/12","2008/12","2009/12","2010/12","2011/12","2012/12","2013/12","2014/12","2015/12","2016/12","2017/12","2018/12"],"title":null}},
      "y":{"field":"v","type":"quantitative","scale":{"domain":[-5,30],"nice":false,"zero":false},"axis":{"values":[-5,0,5,10,15,20,25,30],"title":"%","titleX":3,"titleY":-2}},
      "color":{"field":"k","type":"nominal","scale":{"domain":["ip","ipm"],"range":["#B0441A","#8DA0AC"]},"legend":{"title":null,"orient":"none","direction":"vertical","legendX":145,"legendY":19,"symbolSize":144,"rowPadding":16,"labelExpr":"datum.label=='ip'?'工业增加值，同比增速':'工业增加值，年化环比增速'"}},
      "strokeDash":{"field":"k","type":"nominal","scale":{"domain":["ip","ipm"],"range":[[1,0],[4,3]]},"legend":{"title":null,"orient":"none","direction":"vertical","legendX":145,"legendY":19,"symbolSize":144,"rowPadding":16,"labelExpr":"datum.label=='ip'?'工业增加值，同比增速':'工业增加值，年化环比增速'"}}}}
   ]},
  {"width":58,"height":1,"mark":"rect","data":{"values":[]}},
  {"width":278,"height":160,
   "data":{"name":"B"},
   "layer":[
    {"data":{"values":[{"a":-15,"b":30}]},"mark":{"type":"rect","filled":false,"color":"#A6A6A6","strokeWidth":0.8},
     "encoding":{"y":{"field":"a","type":"quantitative","scale":{"domain":[-15,31.154],"nice":false,"zero":false},"axis":{"values":[-15,-10,-5,0,5,10,15,20,25,30],"title":"% 年同比","titleX":0,"titleY":-2}},"y2":{"field":"b"}}},
    {"data":{"values":[{"v":0}]},"mark":{"type":"rule","color":"#A6A6A6","strokeWidth":0.8},
     "encoding":{"y":{"field":"v","type":"quantitative","scale":{"domain":[-15,31.154],"nice":false,"zero":false},"axis":{"values":[-15,-10,-5,0,5,10,15,20,25,30],"title":"% 年同比","titleX":0,"titleY":-2}}}},
    {"transform":[{"fold":["pw"],"as":["k","v"]}],"mark":{"type":"line","strokeWidth":1.5},
     "encoding":{
      "x":{"field":"d","type":"ordinal","sort":null,"scale":{"type":"point","padding":0},"axis":{"values":["2007/12","2008/12","2009/12","2010/12","2011/12","2012/12","2013/12","2014/12","2015/12","2016/12","2017/12","2018/12"],"title":null}},
      "y":{"field":"v","type":"quantitative","scale":{"domain":[-15,31.154],"nice":false,"zero":false},"axis":{"values":[-15,-10,-5,0,5,10,15,20,25,30],"title":"% 年同比","titleX":0,"titleY":-2}},
      "color":{"field":"k","type":"nominal","scale":{"domain":["pw"],"range":["#B0441A"]},"legend":{"title":null,"orient":"none","legendX":166,"legendY":21.5,"symbolSize":81,"labelExpr":"'发电量同比增速'"}}}}
   ]}
 ],"spacing":0,"bounds":"flush","resolve":{"scale":{"color":"independent","strokeDash":"independent"},"legend":{"color":"independent","strokeDash":"independent"}}},
 {"width":1,"height":2.7,"mark":"rect","data":{"values":[]}},
 {"hconcat":[
  {"width":9,"height":1.5,"mark":"rect","data":{"values":[]}},
  {"width":315,"height":1.5,"view":{"fill":"#A87777","stroke":null},"mark":"rect","data":{"values":[]},
   "title":{"text":"资料来源：CEIC，中金公司研究部","orient":"bottom","fontSize":9.5,"dx":1,"offset":4}},
  {"width":9,"height":1.5,"mark":"rect","data":{"values":[]}},
  {"width":330,"height":1.5,"view":{"fill":"#A87777","stroke":null},"mark":"rect","data":{"values":[]},
   "title":{"text":"资料来源：CEIC，中金公司研究部","orient":"bottom","fontSize":9.5,"dx":4,"offset":4}}
 ],"spacing":0,"bounds":"flush"},
 {"width":1,"height":23.8,"mark":"rect","data":{"values":[]}},
 {"hconcat":[
  {"width":9,"height":1.5,"mark":"rect","data":{"values":[]}},
  {"width":315,"height":1.5,"view":{"fill":"#A87777","stroke":null},"mark":"rect","data":{"values":[]},
   "title":{"text":"图表 5: 12 月铁路货运周转量同比增速与 11 月持平","dx":1,"offset":3.5}},
  {"width":9,"height":1.5,"mark":"rect","data":{"values":[]}},
  {"width":330,"height":1.5,"view":{"fill":"#A87777","stroke":null},"mark":"rect","data":{"values":[]},
   "title":{"text":"图表 6: 12 月名义社会消费品零售总额增速小幅回升","dx":4,"offset":3.5}}
 ],"spacing":0,"bounds":"flush"},
 {"width":1,"height":10.3,"mark":"rect","data":{"values":[]}},
 {"hconcat":[
  {"width":31,"height":1,"mark":"rect","data":{"values":[]}},
  {"width":284,"height":169,"view":{"stroke":"#A6A6A6","strokeWidth":0.8},
   "data":{"name":"B"},
   "layer":[
    {"data":{"values":[{"v":0}]},"mark":{"type":"rule","color":"#A6A6A6","strokeWidth":0.8},
     "encoding":{"y":{"field":"v","type":"quantitative","scale":{"domain":[-20,30],"nice":false,"zero":false},"axis":{"values":[-20,-15,-10,-5,0,5,10,15,20,25,30],"title":"% 累计同比","titleX":-9,"titleY":-5}}}},
    {"transform":[{"fold":["pas"],"as":["k","v"]}],"mark":{"type":"line","strokeWidth":1.3},
     "encoding":{
      "x":{"field":"d","type":"ordinal","sort":null,"scale":{"type":"point","padding":0},"axis":{"values":["2007/12","2008/12","2009/12","2010/12","2011/12","2012/12","2013/12","2014/12","2015/12","2016/12","2017/12","2018/12"],"title":null}},
      "y":{"field":"v","type":"quantitative","scale":{"domain":[-20,30],"nice":false,"zero":false},"axis":{"values":[-20,-15,-10,-5,0,5,10,15,20,25,30],"title":"% 累计同比","titleX":-9,"titleY":-5}},
      "color":{"field":"k","type":"nominal","scale":{"domain":["pas","frt"],"range":["#A6A6A6","#B0441A"]},"legend":{"title":null,"orient":"none","direction":"horizontal","legendX":27,"legendY":11,"symbolSize":49,"columnPadding":25,"labelExpr":"datum.label=='pas'?'铁路客运周转量，累计同比':'铁路货运周转量，累计同比'"}}}},
    {"transform":[{"fold":["frt"],"as":["k","v"]}],"mark":{"type":"line","strokeWidth":1.8},
     "encoding":{
      "x":{"field":"d","type":"ordinal","sort":null,"scale":{"type":"point","padding":0},"axis":{"values":["2007/12","2008/12","2009/12","2010/12","2011/12","2012/12","2013/12","2014/12","2015/12","2016/12","2017/12","2018/12"],"title":null}},
      "y":{"field":"v","type":"quantitative","scale":{"domain":[-20,30],"nice":false,"zero":false},"axis":{"values":[-20,-15,-10,-5,0,5,10,15,20,25,30],"title":"% 累计同比","titleX":-9,"titleY":-5}},
      "color":{"field":"k","type":"nominal","scale":{"domain":["pas","frt"],"range":["#A6A6A6","#B0441A"]},"legend":{"title":null,"orient":"none","direction":"horizontal","legendX":27,"legendY":11,"symbolSize":49,"columnPadding":25,"labelExpr":"datum.label=='pas'?'铁路客运周转量，累计同比':'铁路货运周转量，累计同比'"}}}}
   ]},
  {"width":50,"height":1,"mark":"rect","data":{"values":[]}},
  {"width":283,"height":163,
   "data":{"name":"C"},
   "layer":[
    {"data":{"values":[{"a":5,"b":15.86}]},"mark":{"type":"rect","filled":false,"color":"#A6A6A6","strokeWidth":0.8},
     "encoding":{"y":{"field":"a","type":"quantitative","scale":{"domain":[5,16.133],"nice":false,"zero":false},"axis":{"values":[5,7,9,11,13,15],"title":"% 年同比","titleX":-2,"titleY":-3}},"y2":{"field":"b"}}},
    {"transform":[{"fold":["nom"],"as":["k","v"]}],"mark":{"type":"line","strokeWidth":1.3},
     "encoding":{
      "x":{"field":"d","type":"ordinal","sort":null,"scale":{"type":"point","padding":0},"axis":{"values":["2012/12","2013/6","2013/12","2014/6","2014/12","2015/6","2015/12","2016/6","2016/12","2017/6","2017/12","2018/6","2018/12"],"title":null}},
      "y":{"field":"v","type":"quantitative","scale":{"domain":[5,16.133],"nice":false,"zero":false},"axis":{"values":[5,7,9,11,13,15],"title":"% 年同比","titleX":-2,"titleY":-3}},
      "color":{"field":"k","type":"nominal","scale":{"domain":["real","nom"],"range":["#B0441A","#A6A6A6"]},"legend":{"title":null,"orient":"none","direction":"vertical","legendX":126,"legendY":12,"symbolSize":64,"rowPadding":13.5,"labelFontSize":8.2,"labelExpr":"datum.label=='real'?'实际社会消费品零售总额增速':'名义社会消费品零售总额增速'"}}}},
    {"transform":[{"fold":["real"],"as":["k","v"]}],"mark":{"type":"line","strokeWidth":1.8},
     "encoding":{
      "x":{"field":"d","type":"ordinal","sort":null,"scale":{"type":"point","padding":0},"axis":{"values":["2012/12","2013/6","2013/12","2014/6","2014/12","2015/6","2015/12","2016/6","2016/12","2017/6","2017/12","2018/6","2018/12"],"title":null}},
      "y":{"field":"v","type":"quantitative","scale":{"domain":[5,16.133],"nice":false,"zero":false},"axis":{"values":[5,7,9,11,13,15],"title":"% 年同比","titleX":-2,"titleY":-3}},
      "color":{"field":"k","type":"nominal","scale":{"domain":["real","nom"],"range":["#B0441A","#A6A6A6"]},"legend":{"title":null,"orient":"none","direction":"vertical","legendX":126,"legendY":12,"symbolSize":64,"rowPadding":13.5,"labelFontSize":8.2,"labelExpr":"datum.label=='real'?'实际社会消费品零售总额增速':'名义社会消费品零售总额增速'"}}}}
   ]}
 ],"spacing":0,"bounds":"flush","resolve":{"scale":{"color":"independent","strokeDash":"independent"},"legend":{"color":"independent","strokeDash":"independent"}}},
 {"width":1,"height":6.4,"mark":"rect","data":{"values":[]}},
 {"hconcat":[
  {"width":9,"height":1.5,"mark":"rect","data":{"values":[]}},
  {"width":315,"height":1.5,"view":{"fill":"#A87777","stroke":null},"mark":"rect","data":{"values":[]},
   "title":{"text":"资料来源：CEIC，中金公司研究部","orient":"bottom","fontSize":9.5,"dx":1,"offset":4}},
  {"width":9,"height":1.5,"mark":"rect","data":{"values":[]}},
  {"width":330,"height":1.5,"view":{"fill":"#A87777","stroke":null},"mark":"rect","data":{"values":[]},
   "title":{"text":"资料来源：CEIC，中金公司研究部","orient":"bottom","fontSize":9.5,"dx":4,"offset":4}}
 ],"spacing":0,"bounds":"flush"},
 {"width":1,"height":46,"mark":"rect","data":{"values":[]}},
 {"hconcat":[
  {"width":9,"height":2.5,"mark":"rect","data":{"values":[]}},
  {"width":689,"height":2.5,"view":{"fill":"#C9A063","stroke":null},"mark":"rect","data":{"values":[]},
   "title":{"text":"请仔细阅读在本报告尾部的重要法律声明","subtitle":"4","orient":"bottom","anchor":"middle","fontSize":12,"fontWeight":"bold","color":"#8B1A1A","subtitleFontSize":12,"subtitleFontWeight":"bold","subtitleFontStyle":"italic","subtitleColor":"#8B1A1A","subtitlePadding":4,"offset":5}}
 ],"spacing":0,"bounds":"flush"}
]
}
